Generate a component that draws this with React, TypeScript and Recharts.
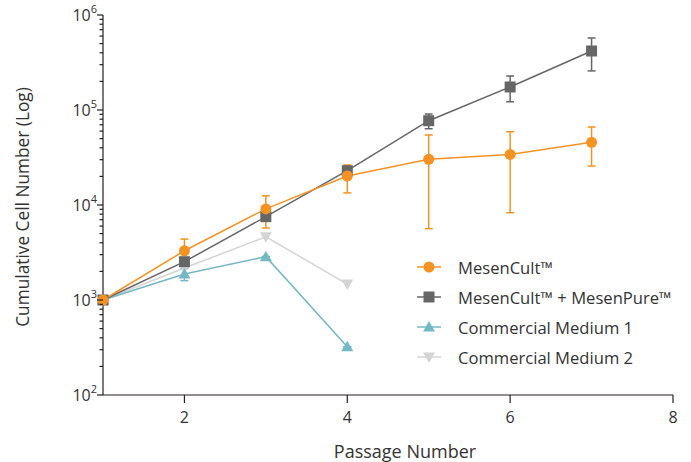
import { ErrorBar, Line, LineChart, XAxis, YAxis, Label } from "recharts";

// passage numbers
const passagesLong = [1, 2, 3, 4, 5, 6, 7];
const passagesShort = [1, 2, 3, 4];

// MesenCult
const mesenCult = [1000, 3300, 9100, 20200, 30300, 34100, 45700];
const mesenCultLo = [1000, 2480, 5730, 13400, 5640, 8300, 25700];
const mesenCultHi = [1000, 4380, 12500, 26400, 54600, 59100, 66200];

// MesenCult + MesenPure
const mesenPure = [1000, 2530, 7530, 22970, 77100, 174700, 418000];
const mesenPureLo = [1000, 2330, 6900, 21000, 63500, 122000, 258000];
const mesenPureHi = [1000, 2750, 8200, 25000, 90700, 228000, 573000];

// Commercial media
const commercial1 = [1000, 1880, 2860, 322];
const commercial1Lo = [1000, 1600, 2860, 322];
const commercial1Hi = [1000, 2150, 2860, 322];
const commercial2 = [1000, 2170, 4630, 1470];

const yTicks: number[] = [];
for (let e = 2; e < 6; e++) {
  for (let m = 1; m < 10; m++) yTicks.push(m * Math.pow(10, e));
}
yTicks.push(1000000);
const xTicks = [2, 4, 6, 8];

const ORANGE = "#f39323";
const DARK = "#666666";
const TEAL = "#74b8c4";
const LIGHT = "#d4d4d4";
const INK = "#231f20";
const FONT = "'Open Sans', sans-serif";

const build = (xs: number[], ys: number[], lo?: number[], hi?: number[]) =>
  xs.map((x, i) => ({
    x,
    y: ys[i],
    err: lo && hi ? [ys[i] - lo[i], hi[i] - ys[i]] : [0, 0],
  }));

const dataCult = build(passagesLong, mesenCult, mesenCultLo, mesenCultHi);
const dataPure = build(passagesLong, mesenPure, mesenPureLo, mesenPureHi);
const dataC1 = build(passagesShort, commercial1, commercial1Lo, commercial1Hi);
const dataC2 = build(passagesShort, commercial2);

type Shape = "circle" | "square" | "up" | "down";

const Marker = ({ cx, cy, shape, color }: { cx: number; cy: number; shape: Shape; color: string }) => {
  if (shape === "circle") return <circle cx={cx} cy={cy} r={5.5} fill={color} />;
  if (shape === "square") return <rect x={cx - 5.5} y={cy - 5.5} width={11} height={11} fill={color} />;
  if (shape === "up")
    return <polygon points={`${cx},${cy - 6} ${cx - 6},${cy + 4.5} ${cx + 6},${cy + 4.5}`} fill={color} />;
  return <polygon points={`${cx},${cy + 6} ${cx - 6},${cy - 4.5} ${cx + 6},${cy - 4.5}`} fill={color} />;
};

const dotFor = (shape: Shape, color: string) => (props: any) =>
  <Marker key={`d-${props.index}`} cx={props.cx} cy={props.cy} shape={shape} color={color} />;

const YTick = ({ x, y, payload }: any) => {
  const v = payload.value;
  const lg = Math.log10(v);
  const exp = Math.round(lg);
  const major = Math.abs(lg - exp) < 1e-6;
  return (
    <g>
      <line x1={x - (major ? 6 : 3.5)} x2={x} y1={y} y2={y} stroke={INK} strokeWidth={1.2} />
      {major && (
        <text x={x - 6} y={y + 6} textAnchor="end" fontFamily={FONT} fontSize={16} fill="#333">
          10
          <tspan dy={-8.5} fontSize={11}>{exp}</tspan>
        </text>
      )}
    </g>
  );
};

const legendItems: { name: string; color: string; shape: Shape }[] = [
  { name: "MesenCult™", color: ORANGE, shape: "circle" },
  { name: "MesenCult™ + MesenPure™", color: DARK, shape: "square" },
  { name: "Commercial Medium 1", color: TEAL, shape: "up" },
  { name: "Commercial Medium 2", color: LIGHT, shape: "down" },
];

export default function App() {
  return (
    <div style={{ position: "absolute", left: 0, top: 0, width: 691, height: 462, background: "#fff" }}>
      <LineChart width={691} height={462} margin={{ top: 15, right: 18, left: 0, bottom: 0 }}>
        <XAxis
          type="number"
          dataKey="x"
          domain={[1, 8]}
          ticks={xTicks}
          allowDuplicatedCategory={false}
          height={67}
          stroke={INK}
          strokeWidth={1.2}
          tickSize={8}
          tickMargin={9}
          tick={{ fill: "#333", fontSize: 16, fontFamily: FONT }}
        >
          <Label
            value="Passage Number"
            position="bottom"
            offset={-17}
            dx={17}
            fill="#333"
            fontSize={18}
            fontFamily={FONT}
          />
        </XAxis>
        <YAxis
          type="number"
          dataKey="y"
          scale="log"
          domain={[100, 1000000]}
          allowDataOverflow
          ticks={yTicks}
          interval={0}
          width={103}
          stroke={INK}
          strokeWidth={1.2}
          tickLine={false}
          tickSize={0}
          tickMargin={0}
          tick={<YTick />}
        >
          <Label
            content={() => (
              <text
                x={22}
                y={207}
                transform="rotate(-90 22 207)"
                textAnchor="middle"
                dominantBaseline="central"
                fill="#333"
                fontSize={17.3}
                fontFamily={FONT}
              >
                Cumulative Cell Number (Log)
              </text>
            )}
          />
        </YAxis>
        <Line
          data={dataC2}
          dataKey="y"
          stroke={LIGHT}
          strokeWidth={1.5}
          dot={dotFor("down", LIGHT)}
          isAnimationActive={false}
        />
        <Line
          data={dataC1}
          dataKey="y"
          stroke={TEAL}
          strokeWidth={1.5}
          dot={dotFor("up", TEAL)}
          isAnimationActive={false}
        >
          <ErrorBar dataKey="err" width={4} stroke={TEAL} strokeWidth={1.5} direction="y" />
        </Line>
        <Line
          data={dataPure}
          dataKey="y"
          stroke={DARK}
          strokeWidth={1.5}
          dot={dotFor("square", DARK)}
          isAnimationActive={false}
        >
          <ErrorBar dataKey="err" width={4} stroke={DARK} strokeWidth={1.5} direction="y" />
        </Line>
        <Line
          data={dataCult}
          dataKey="y"
          stroke={ORANGE}
          strokeWidth={1.5}
          dot={dotFor("circle", ORANGE)}
          isAnimationActive={false}
        >
          <ErrorBar dataKey="err" width={4} stroke={ORANGE} strokeWidth={1.5} direction="y" />
        </Line>
      </LineChart>
      <div style={{ position: "absolute", left: 415, top: 252, fontFamily: FONT, fontSize: 16.6, color: "#333" }}>
        {legendItems.map((it) => (
          <div key={it.name} style={{ display: "flex", alignItems: "center", height: 30 }}>
            <svg width={28} height={16} style={{ marginRight: 15 }}>
              <line x1={2} x2={26} y1={8} y2={8} stroke={it.color} strokeWidth={1.5} />
              <Marker cx={14} cy={8} shape={it.shape} color={it.color} />
            </svg>
            <span>{it.name}</span>
          </div>
        ))}
      </div>
    </div>
  );
}
